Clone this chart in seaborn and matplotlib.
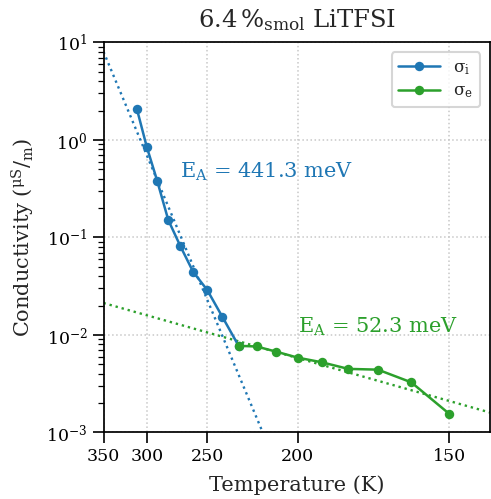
import numpy as np
import pandas as pd
import matplotlib
matplotlib.use("Agg")
import matplotlib.pyplot as plt
import matplotlib.ticker as mticker
import seaborn as sns

# Data
temp_ionic = [310, 300, 290, 280, 270, 260, 250, 240, 230]
sigma_ionic = [2.07, 0.854, 0.383, 0.151, 0.0818, 0.0443, 0.0290, 0.0154, 0.00771]

temp_elec = [230, 220, 210, 200, 190, 180, 170, 160, 150]
sigma_elec = [0.00774, 0.00762, 0.00674, 0.00585, 0.00525, 0.00449, 0.00441, 0.00327, 0.00156]

# Arrhenius fits (activation energy in meV, log10 of prefactor)
ea_ionic = 441.3
ea_elec = 52.3
log_pref_ionic = 7.26
log_pref_elec = -0.919
fit_temp = [350, 140.5]

temp_ticks = [350, 300, 250, 200, 150]

kB = 8.617e-5  # eV/K


def arrhenius(T, ea, log_pref):
    T = np.asarray(T, dtype=float)
    return 10 ** log_pref * np.exp(-ea * 1e-3 / (kB * T))


def fwd(t):
    with np.errstate(divide="ignore", invalid="ignore"):
        return 1000.0 / np.asarray(t, dtype=float)


def inv(u):
    with np.errstate(divide="ignore", invalid="ignore"):
        return 1000.0 / np.asarray(u, dtype=float)


sns.set_theme(style="ticks", rc={
    "axes.edgecolor": "black",
    "axes.linewidth": 1.25,
    "xtick.major.size": 8,
    "ytick.major.size": 8,
    "ytick.minor.size": 4,
    "xtick.major.width": 1.2,
    "ytick.major.width": 1.2,
    "ytick.minor.width": 0.9,
    "xtick.color": "black",
    "ytick.color": "black",
    "mathtext.fontset": "dejavuserif",
})
plt.rcParams["font.family"] = ["DejaVu Serif"]

blue = "#1f77b4"
green = "#2ca02c"

df_i = pd.DataFrame({"T": temp_ionic, "sigma": sigma_ionic})
df_e = pd.DataFrame({"T": temp_elec, "sigma": sigma_elec})

fig = plt.figure(figsize=(4.91, 4.99), dpi=100)
ax = fig.add_axes([0.2108, 0.1333, 0.787, 0.7816])
ax.set_xscale("function", functions=(fwd, inv))
ax.set_yscale("log")

ax.plot(fit_temp, arrhenius(fit_temp, ea_ionic, log_pref_ionic), ls=":", lw=1.7, color=blue)
ax.plot(fit_temp, arrhenius(fit_temp, ea_elec, log_pref_elec), ls=":", lw=1.7, color=green)

sns.lineplot(data=df_i, x="T", y="sigma", marker="o", color=blue, lw=1.8,
             markersize=6.8, markeredgewidth=0, label=r"σ$_\mathrm{i}$", ax=ax)
sns.lineplot(data=df_e, x="T", y="sigma", marker="o", color=green, lw=1.8,
             markersize=6.8, markeredgewidth=0, label=r"σ$_\mathrm{e}$", ax=ax)

# forward transform is decreasing, so these limits put 350 K on the left
ax.set_xlim(140.5, 350)
ax.set_ylim(1e-3, 1e1)
ax.xaxis.set_major_locator(mticker.FixedLocator(temp_ticks))
ax.xaxis.set_minor_locator(mticker.NullLocator())
ax.xaxis.set_major_formatter(mticker.FormatStrFormatter("%d"))
ax.yaxis.set_minor_locator(mticker.LogLocator(base=10, subs=np.arange(2, 10), numticks=20))
ax.tick_params(labelsize=12.5)

ax.grid(True, which="major", ls=":", color="#c8c8c8", lw=1.1)

ax.text(270, 0.47, r"E$_\mathrm{A}$ = 441.3 meV", color=blue, fontsize=15,
        ha="left", va="center")
ax.text(200, 0.0121, r"E$_\mathrm{A}$ = 52.3 meV", color=green, fontsize=15,
        ha="left", va="center")

ax.set_title(r"6.4$\,$%$_\mathrm{smol}$ LiTFSI", fontsize=17.5, pad=11)
ax.set_xlabel("Temperature (K)", fontsize=15, labelpad=7)
ax.set_ylabel(r"Conductivity $(^{\mathrm{\mu S}}/_{\mathrm{m}})$", fontsize=15, labelpad=7)

leg = ax.legend(loc="upper right", fontsize=12, frameon=True, fancybox=True,
                handlelength=2.5, labelspacing=0.35, borderaxespad=0.6)
leg.get_frame().set_edgecolor("#cccccc")
leg.get_frame().set_linewidth(1.5)

fig.savefig("out.png", dpi=100)
